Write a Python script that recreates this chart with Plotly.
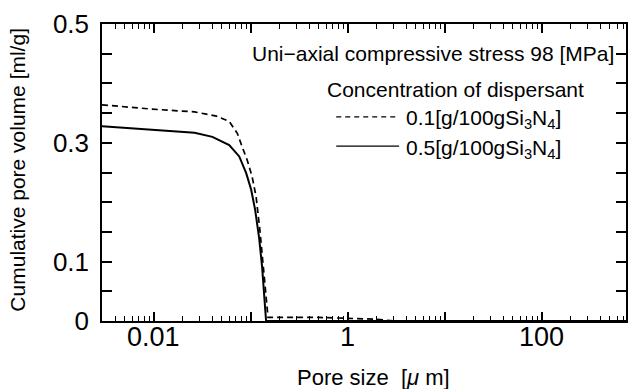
import math
import plotly.graph_objects as go

# Pore size [um] and cumulative pore volume [ml/g]
size_01 = [0.00293, 0.0091, 0.0264, 0.0443, 0.0601, 0.0728, 0.0818, 0.092, 0.1035,
           0.1138, 0.125, 0.1374, 0.151, 0.5, 2.0, 3.0, 740]
vol_01 = [0.364, 0.357, 0.352, 0.345, 0.336, 0.316, 0.293, 0.271, 0.243,
          0.209, 0.15, 0.08, 0.006, 0.006, 0.003, 0.0, 0.0]

size_05 = [0.00293, 0.0091, 0.0264, 0.0403, 0.0601, 0.0762, 0.0899, 0.1012, 0.1112,
           0.1222, 0.1312, 0.1442, 740]
vol_05 = [0.328, 0.322, 0.317, 0.310, 0.296, 0.277, 0.249, 0.221, 0.187,
          0.14, 0.091, 0.0, 0.0]

x_tickvals = [0.01, 0.1, 1, 10, 100]
x_labelvals = [0.01, 1, 100]
x_labeltext = ["0.01", "1", "100"]
x_minor = [m * 10.0 ** e for e in range(-3, 3) for m in range(2, 10)]
y_tickvals = [0, 0.1, 0.3, 0.5]
y_ticktext = ["0", "0.1", "0.3", "0.5"]
y_minor = [0.05, 0.15, 0.2, 0.25, 0.35, 0.4, 0.45]

XRANGE = [-2.533, 2.87]
FONT = "Liberation Sans, Arial, Helvetica, sans-serif"

fig = go.Figure()
fig.add_trace(go.Scatter(x=size_01, y=vol_01, mode="lines",
                         line=dict(color="black", width=1.7, dash="6px,4px"),
                         showlegend=False))
fig.add_trace(go.Scatter(x=size_05, y=vol_05, mode="lines",
                         line=dict(color="black", width=2),
                         showlegend=False))

fig.update_layout(
    xaxis=dict(type="log", range=XRANGE,
               tickmode="array", tickvals=x_tickvals, showticklabels=False,
               ticks="inside", ticklen=9, tickwidth=1.5, tickcolor="black",
               minor=dict(tickmode="array", tickvals=x_minor, ticks="inside",
                          ticklen=5, tickwidth=1.2, tickcolor="black", showgrid=False),
               showline=True, linecolor="black", linewidth=1.5, mirror="ticks",
               showgrid=False, zeroline=False),
    yaxis=dict(range=[0, 0.5],
               tickmode="array", tickvals=y_tickvals, ticktext=y_ticktext,
               ticks="inside", ticklen=10, tickwidth=1.5, tickcolor="black",
               minor=dict(tickmode="array", tickvals=y_minor, ticks="inside",
                          ticklen=10, tickwidth=1.5, tickcolor="black", showgrid=False),
               ticklabelstandoff=6,
               showline=True, linecolor="black", linewidth=1.5, mirror="ticks",
               showgrid=False, zeroline=False,
               tickfont=dict(family=FONT, size=26, color="black")),
)

for v, t in zip(x_labelvals, x_labeltext):
    fig.add_annotation(text=t, xref="x", yref="paper", x=math.log10(v), y=-0.054,
                       xanchor="center", yanchor="middle", showarrow=False,
                       font=dict(family=FONT, size=27, color="black"))

ann_font = dict(family=FONT, size=21, color="black")
fig.add_annotation(text="Uni\u2212axial compressive stress 98 [MPa]", xref="paper", yref="paper",
                   x=0.981, y=0.902, xanchor="right", yanchor="middle", showarrow=False, font=ann_font)
fig.add_annotation(text="Concentration of dispersant", xref="paper", yref="paper",
                   x=0.923, y=0.778, xanchor="right", yanchor="middle", showarrow=False, font=ann_font)
fig.add_annotation(text="0.1[g/100gSi<sub>3</sub>N<sub>4</sub>]", xref="paper", yref="paper",
                   x=0.576, y=0.680, xanchor="left", yanchor="middle", showarrow=False, font=ann_font)
fig.add_annotation(text="0.5[g/100gSi<sub>3</sub>N<sub>4</sub>]", xref="paper", yref="paper",
                   x=0.576, y=0.580, xanchor="left", yanchor="middle", showarrow=False, font=ann_font)
fig.add_shape(type="line", xref="paper", yref="paper", x0=0.447, x1=0.567, y0=0.687, y1=0.687,
              line=dict(color="black", width=1.3, dash="5px,4px"))
fig.add_shape(type="line", xref="paper", yref="paper", x0=0.447, x1=0.567, y0=0.589, y1=0.589,
              line=dict(color="black", width=1.3))

fig.add_annotation(text="Cumulative pore volume [ml/g]", xref="paper", yref="paper",
                   x=-0.162, y=0.51, textangle=-90, xanchor="center", yanchor="middle",
                   showarrow=False, font=ann_font)
fig.add_annotation(text="Pore size  [<i>\u03bc</i> m]", xref="paper", yref="paper",
                   x=0.519, y=-0.189, xanchor="center", yanchor="middle",
                   showarrow=False, font=dict(family=FONT, size=22, color="black"))

fig.update_layout(width=631, height=389,
                  margin=dict(l=102, r=3, t=24, b=68),
                  paper_bgcolor="white", plot_bgcolor="white",
                  showlegend=False)

fig.write_html("out.html")
